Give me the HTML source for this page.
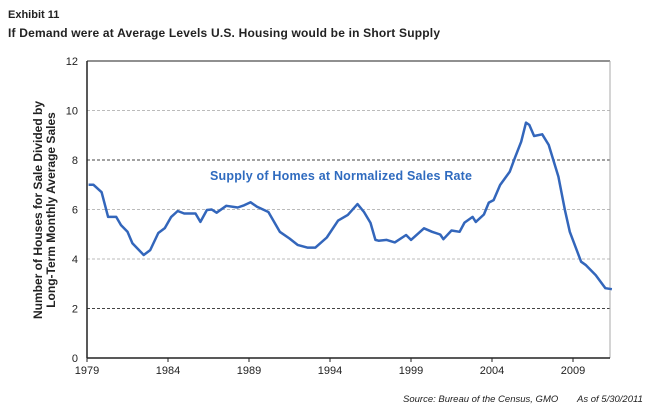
<!DOCTYPE html>
<html><head><meta charset="utf-8"><style>
body{margin:0;background:#fff;width:650px;height:410px;overflow:hidden;font-family:"Liberation Sans",Arial,sans-serif}
svg text{font-family:"Liberation Sans",Arial,sans-serif}
</style></head><body>
<svg id="c" width="650" height="410">
<text x="8" y="18" font-size="11" font-weight="bold" fill="#222">Exhibit 11</text>
<text x="8" y="37" font-size="12" font-weight="bold" fill="#222" textLength="432">If Demand were at Average Levels U.S. Housing would be in Short Supply</text>
<g id="grid"></g>
<g id="axes"></g>
<text transform="translate(42,210) rotate(-90)" text-anchor="middle" font-size="12" font-weight="bold" fill="#222"><tspan x="0" dy="0">Number of Houses for Sale Divided by</tspan><tspan x="0" dy="13">Long-Term Monthly Average Sales</tspan></text>
<text x="210" y="180" font-size="12.5" font-weight="bold" fill="#2f6bbf" textLength="262">Supply of Homes at Normalized Sales Rate</text>
<text x="403" y="402" font-size="9.5" font-style="italic" fill="#222">Source: Bureau of the Census, GMO</text>
<text x="577" y="402" font-size="9.5" font-style="italic" fill="#222">As of 5/30/2011</text>
</svg>
<script>
const years=[1979.1,1979.4,1979.9,1980.3,1980.8,1981.1,1981.5,1981.8,1982.5,1982.9,1983.4,1983.8,1984.2,1984.6,1985.0,1985.7,1986.0,1986.4,1986.7,1987.0,1987.6,1988.3,1988.7,1989.1,1989.5,1990.2,1990.9,1991.5,1992.0,1992.6,1993.1,1993.8,1994.5,1995.1,1995.7,1996.1,1996.5,1996.8,1997.0,1997.5,1998.0,1998.7,1999.0,1999.8,2000.3,2000.8,2001.0,2001.5,2002.0,2002.3,2002.8,2003.0,2003.5,2003.8,2004.1,2004.5,2005.1,2005.4,2005.8,2006.1,2006.3,2006.6,2007.1,2007.5,2008.1,2008.5,2008.8,2009.5,2009.8,2010.4,2011.0,2011.4];
const values=[7.0,7.0,6.7,5.7,5.7,5.37,5.1,4.64,4.16,4.36,5.05,5.25,5.7,5.94,5.84,5.84,5.5,5.98,6.0,5.87,6.15,6.08,6.17,6.29,6.11,5.9,5.1,4.83,4.57,4.46,4.46,4.87,5.55,5.78,6.22,5.9,5.46,4.77,4.74,4.77,4.67,4.97,4.77,5.24,5.1,4.99,4.8,5.15,5.1,5.47,5.7,5.5,5.8,6.28,6.38,6.99,7.53,8.07,8.74,9.51,9.42,8.97,9.04,8.61,7.33,5.98,5.1,3.89,3.75,3.35,2.82,2.78];
const yTicks=[0,2,4,6,8,10,12];
const xTicks=[1979,1984,1989,1994,1999,2004,2009];
const PL=87,PR=610,PT=61,PB=358;
function xs(yr){return PL+(yr-1979)*16.2;}
function ys(v){return PB-v*(PB-PT)/12;}
const NS='http://www.w3.org/2000/svg';
const svgEl=document.getElementById('c');
const gridG=document.getElementById('grid'),axesG=document.getElementById('axes');
function mk(t,a,p){const e=document.createElementNS(NS,t);for(const k in a)e.setAttribute(k,a[k]);p.appendChild(e);return e;}
yTicks.forEach(v=>{
  if(v>0&&v<12){
    const g=mk('line',{x1:PL,x2:PR,y1:ys(v),y2:ys(v),stroke:(v==2||v==8)?'#444':'#bbb','stroke-dasharray':'3,2','stroke-width':1},gridG);
    
    
  }
  const t=mk('text',{x:PL-9,y:ys(v)+4,'text-anchor':'end','font-size':11,fill:'#222'},axesG);
  t.textContent=v;
  
  
});
xTicks.forEach(v=>{
  const t=mk('text',{x:xs(v),y:PB+16,'text-anchor':'middle','font-size':11,fill:'#222'},axesG);
  t.textContent=v;
  
  
  mk('line',{x1:xs(v),x2:xs(v),y1:PB,y2:PB+4,stroke:'#222'},axesG);
});
const topBorder=mk('line',{x1:PL,x2:PR,y1:PT,y2:PT,stroke:'#222','stroke-width':1},axesG);


mk('line',{x1:PR,x2:PR,y1:PT,y2:PB,stroke:'#aaa','stroke-width':1},axesG);
const yAxisLine=mk('line',{x1:PL,x2:PL,y1:PT,y2:PB,stroke:'#222','stroke-width':1.5},axesG);


const xAxisLine=mk('line',{x1:PL,x2:PR,y1:PB,y2:PB,stroke:'#222','stroke-width':1.5},axesG);


const d=years.map((yr,i)=>(i?'L':'M')+xs(yr).toFixed(1)+','+ys(values[i]).toFixed(1)).join(' ');
const linePath=mk('path',{d:d,fill:'none',stroke:'#3366bb','stroke-width':2.5,'stroke-linejoin':'round'},svgEl);


</script>
</body></html>
